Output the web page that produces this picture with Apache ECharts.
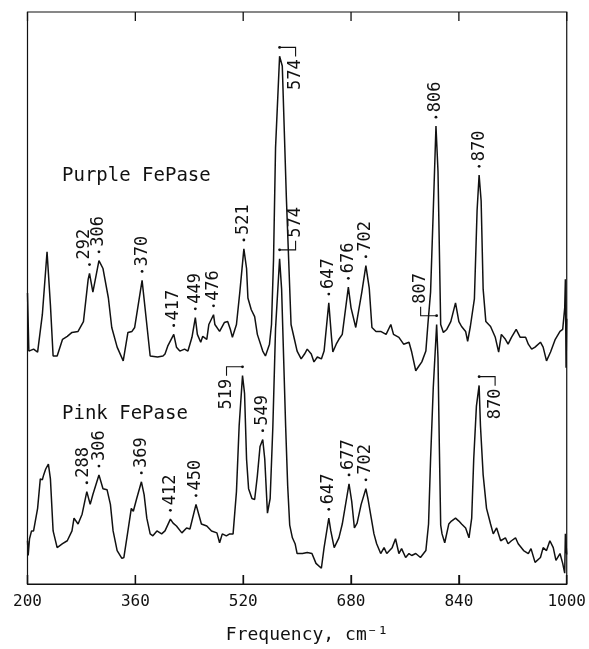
<!DOCTYPE html>
<html>
<head>
<meta charset="utf-8">
<script src="https://cdn.jsdelivr.net/npm/echarts@6/dist/echarts.min.js"></script>
<style>
  html, body { margin: 0; padding: 0; background: #fff; overflow: hidden; }
  #chart { width: 589px; height: 649px; }
</style>
</head>
<body>
<div id="chart"></div>
<script>
// Raman spectra of purple and pink FePase: [wavenumber (cm-1), intensity (arb. units)]
const purpleSpectrum = [
  [200,296],[202,237],[209,239],[215,236],[222,274],[229,338],[234,284],[238,232],[244,232],[252,249],
  [259,252],[266,256],[275,257],[283,267],[290,310],[292,316],[297,297],[306,329],[312,321],[320,291],
  [325,261],[333,241],[342,227],[349,256],[355,257],[359,261],[370,309],[377,264],[382,232],[393,231],
  [401,232],[404,234],[408,242],[417,254],[421,241],[426,237],[433,239],[438,237],[444,251],[449,271],
  [452,254],[457,246],[460,252],[466,249],[469,264],[476,274],[478,264],[485,257],[492,266],[497,267],
  [501,259],[504,251],[510,264],[515,297],[521,341],[525,321],[527,291],[532,279],[537,272],[541,254],
  [549,237],[553,232],[559,244],[562,264],[565,330],[568,444],[574,537],[578,527],[584,394],[591,264],
  [596,249],[600,237],[606,229],[611,234],[615,239],[621,234],[625,226],[630,231],[636,229],[640,237],
  [647,286],[651,251],[653,236],[658,244],[662,249],[667,254],[676,302],[680,281],[687,261],[689,262],
  [696,297],[702,324],[707,301],[711,261],[717,257],[724,257],[732,254],[739,264],[743,254],[751,251],
  [758,244],[766,246],[770,236],[776,217],[780,221],[785,226],[791,237],[794,264],[798,297],[802,380],
  [806,466],[809,420],[813,264],[817,256],[822,259],[828,267],[835,286],[840,267],[844,262],[850,257],
  [853,247],[857,262],[863,290],[867,380],[870,416],[873,390],[876,300],[880,267],[887,262],[894,251],
  [899,236],[903,254],[909,249],[913,244],[918,251],[925,259],[931,251],[939,251],[943,244],[948,239],
  [953,241],[961,246],[965,241],[970,227],[976,236],[983,249],[990,257],[994,259],[997,281],[998,310],
  [999,220],[1000,270]
];

const pinkSpectrum = [
  [200,44],[201,29],[203,46],[206,54],[209,54],[215,77],[219,107],[222,106],[224,111],[227,117],
  [231,122],[234,107],[238,54],[244,37],[246,36],[252,41],[259,44],[266,54],[269,67],[275,61],
  [281,71],[288,94],[293,81],[297,91],[306,111],[312,97],[318,96],[323,81],[327,54],[333,34],
  [340,26],[343,27],[349,54],[354,77],[357,74],[362,87],[369,104],[373,91],[377,67],[382,51],
  [386,49],[392,54],[399,51],[404,54],[412,66],[416,62],[421,59],[429,52],[436,57],[441,56],
  [450,81],[454,71],[458,61],[466,59],[473,54],[481,52],[485,42],[489,51],[495,49],[500,51],
  [505,51],[510,94],[514,161],[519,212],[522,194],[525,127],[528,97],[533,87],[537,86],[541,110],
  [545,140],[549,147],[552,127],[556,72],[560,87],[564,160],[568,260],[574,331],[577,300],[580,230],
  [583,160],[586,100],[589,60],[593,47],[597,41],[600,31],[608,31],[615,32],[622,31],[628,21],
  [636,16],[640,37],[647,67],[650,54],[655,37],[662,47],[667,61],[677,102],[681,84],[685,57],
  [689,62],[695,81],[702,97],[705,87],[710,67],[714,51],[718,41],[724,31],[729,37],[733,31],
  [741,37],[746,46],[751,31],[755,36],[761,27],[766,31],[770,29],[776,31],[783,27],[791,34],
  [795,61],[798,127],[802,200],[807,264],[809,230],[811,140],[813,60],[815,51],[819,42],[825,61],
  [829,64],[835,67],[840,64],[844,61],[850,57],[855,47],[859,67],[862,127],[866,181],[870,202],
  [872,161],[876,111],[881,77],[887,61],[891,51],[896,57],[902,44],[909,47],[913,41],[918,44],
  [924,47],[928,41],[936,34],[943,31],[947,36],[953,22],[961,27],[965,37],[970,34],[975,44],
  [980,37],[984,24],[990,31],[994,21],[997,11],[998,51],[1000,30]
];

// Assigned band positions (cm-1)
const purpleBands = [292, 306, 370, 417, 449, 476, 521, 647, 676, 702, 806, 870];
const pinkBands = [288, 306, 369, 412, 450, 549, 647, 677, 702];
// Bands labelled with a bracket: [position, horizontal side, vertical side]
const purpleBracketBands = [[574, 1, -1]];
const pinkBracketBands = [[519, -1, -1], [574, 1, 1], [807, -1, 1], [870, 1, -1]];

const freqMin = 200, freqMax = 1000, freqStep = 160;
const traceNames = ['Purple FePase', 'Pink FePase'];

const INK = '#111';
const FONT = '"DejaVu Sans Mono", monospace';
// crowded labels are nudged sideways (px) so they do not overlap
const purpleNudge = { 292: -5 };
const pinkNudge = { 288: -3, 306: 1 };

// highest point of a spectrum near a band position
function peakHeight(spec, f) {
  let m = -Infinity;
  for (const [x, y] of spec) if (Math.abs(x - f) <= 5 && y > m) m = y;
  return m;
}
const GAP = 9;
function bandMarks(spec, bands) {
  return bands.map(f => [f, peakHeight(spec, f) + GAP]);
}
function bracketMarks(spec, bands) {
  return bands.map(([f, h, v]) => [f, peakHeight(spec, f) + GAP, h, v]);
}

function makeBandRenderer(nudge) {
  return function (params, api) {
    const f = api.value(0);
    const p = api.coord([f, api.value(1)]);
    const dx = nudge[f] || 0;
    return {
      type: 'group',
      children: [
        { type: 'circle', shape: { cx: p[0], cy: p[1], r: 1.4 }, style: { fill: INK } },
        {
          type: 'text', x: p[0] + dx, y: p[1] - 5, rotation: Math.PI / 2,
          style: { text: String(f), fontSize: 17, fontFamily: FONT, fill: INK, align: 'left', verticalAlign: 'middle' }
        }
      ]
    };
  };
}

function renderBracket(params, api) {
  const f = api.value(0);
  const h = api.value(2), v = api.value(3);
  const p = api.coord([f, api.value(1)]);
  const L = 16, V = 9;
  const cx = p[0] + h * L;
  const ey = p[1] - v * V;
  return {
    type: 'group',
    children: [
      { type: 'circle', shape: { cx: p[0], cy: p[1], r: 1.4 }, style: { fill: INK } },
      {
        type: 'polyline', shape: { points: [[p[0], p[1]], [cx, p[1]], [cx, ey]] },
        style: { stroke: INK, lineWidth: 1.1, fill: null }
      },
      {
        type: 'text', x: cx, y: ey - v * 3, rotation: Math.PI / 2,
        style: { text: String(f), fontSize: 17, fontFamily: FONT, fill: INK,
                 align: v > 0 ? 'left' : 'right', verticalAlign: 'middle' }
      }
    ]
  };
}

// Inward tick marks along the top and bottom frame edges
function renderTicks(params, api) {
  const f = api.value(0);
  const lo = api.coord([f, 0]);
  const hi = api.coord([f, 582]);
  const len = 9;
  return {
    type: 'group',
    children: [
      { type: 'line', shape: { x1: lo[0], y1: lo[1], x2: lo[0], y2: lo[1] - len }, style: { stroke: INK, lineWidth: 1.3 } },
      { type: 'line', shape: { x1: hi[0], y1: hi[1], x2: hi[0], y2: hi[1] + len }, style: { stroke: INK, lineWidth: 1.3 } }
    ]
  };
}
const tickFreqs = [];
for (let f = freqMin; f <= freqMax; f += freqStep) tickFreqs.push([f]);

const chart = echarts.init(document.getElementById('chart'), null, { renderer: 'canvas' });

chart.setOption({
  animation: false,
  backgroundColor: '#fff',
  grid: { left: 27.5, right: 21, top: 12, bottom: 55, show: true, borderColor: INK, borderWidth: 1.2 },
  xAxis: {
    type: 'value', min: freqMin, max: freqMax, interval: freqStep, position: 'bottom',
    axisLine: { show: true, onZero: false, lineStyle: { color: INK, width: 1.2 } },
    axisTick: { show: true, inside: true, length: 9, lineStyle: { color: INK, width: 1.3 } },
    axisLabel: { show: true, margin: 10, fontSize: 16, fontFamily: FONT, color: INK,
                 formatter: v => String(v) },
    splitLine: { show: false },
    name: 'Frequency, cm\u207B\u00B9', nameLocation: 'middle', nameGap: 42,
    nameTextStyle: { fontSize: 18, fontFamily: FONT, color: INK, padding: [0, 0, 0, 20] }
  },
  yAxis: { type: 'value', min: 0, max: 582, show: false },
  graphic: [
    { type: 'text', left: 62, top: 167, style: { text: traceNames[0], fontSize: 19, fontFamily: FONT, fill: INK } },
    { type: 'text', left: 62, top: 405, style: { text: traceNames[1], fontSize: 19, fontFamily: FONT, fill: INK } }
  ],
  series: [
    { name: traceNames[0], type: 'line', data: purpleSpectrum, showSymbol: false, lineStyle: { color: INK, width: 1.5 }, z: 2 },
    { name: traceNames[1], type: 'line', data: pinkSpectrum, showSymbol: false, lineStyle: { color: INK, width: 1.5 }, z: 2 },
    { type: 'custom', data: tickFreqs, renderItem: renderTicks, silent: true, clip: false, z: 4 },
    { type: 'custom', data: bandMarks(purpleSpectrum, purpleBands), renderItem: makeBandRenderer(purpleNudge), silent: true, z: 3 },
    { type: 'custom', data: bandMarks(pinkSpectrum, pinkBands), renderItem: makeBandRenderer(pinkNudge), silent: true, z: 3 },
    { type: 'custom', data: bracketMarks(purpleSpectrum, purpleBracketBands), renderItem: renderBracket, silent: true, z: 3 },
    { type: 'custom', data: bracketMarks(pinkSpectrum, pinkBracketBands), renderItem: renderBracket, silent: true, z: 3 }
  ]
});
</script>
</body>
</html>
